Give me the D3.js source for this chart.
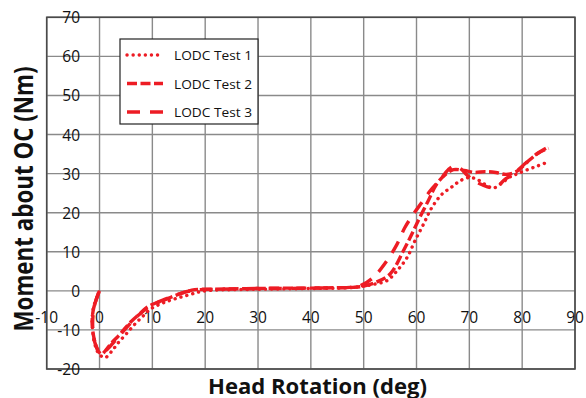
<!DOCTYPE html>
<html>
<head>
<meta charset="utf-8">
<script src="https://cdn.jsdelivr.net/npm/d3@7"></script>
<style>
  html, body { margin: 0; padding: 0; background: #fff; }
  svg { display: block; }
  text { font-family: "Open Sans", "Liberation Sans", sans-serif; fill: #111; }
</style>
</head>
<body>
<svg id="chart" width="586" height="398"></svg>
<script>
// Axis ticks
const xTicks = [-10, 0, 10, 20, 30, 40, 50, 60, 70, 80, 90];
const yTicks = [-20, -10, 0, 10, 20, 30, 40, 50, 60, 70];

// Series names
const seriesNames = ["LODC Test 1", "LODC Test 2", "LODC Test 3"];

// Head rotation (deg) vs moment about OC (Nm), per test
const test1 = [
  [-0.1,-0.3],[-0.6,-2],[-1.1,-4],[-1.4,-7],[-1.3,-10],[-1,-13],[-0.4,-15.5],[0.4,-16.8],[1.2,-17],
  [2.4,-15.3],[3.6,-13.2],[5.2,-10.8],[6.7,-8.5],[8.2,-6.5],[9.6,-4.7],[11.3,-3.5],[13,-2.6],
  [14.6,-1.9],[16.2,-1.3],[18,-0.6],[19.5,-0.1],[22,0.2],[25,0.3],[30,0.4],[35,0.5],[40,0.6],
  [45,0.7],[48,0.9],[50,1.2],[52,1.7],[54.4,2.6],[56.3,5.1],[58.2,8.5],[59.7,12.8],[61.3,17],
  [62.9,21.3],[64.8,24.7],[66.7,26.6],[68.3,28.2],[70,29],[71.5,28.5],[73,27.2],[74.5,26.3],
  [76,27.4],[77.5,29],[79,29.9],[81,31],[83,32],[84.8,32.9]
];
const test2 = [
  [-0.1,-0.3],[-0.7,-2.5],[-1.2,-5],[-1.4,-8],[-1.2,-11],[-0.8,-13.5],[-0.3,-15.3],[0.4,-16.2],
  [1,-15.5],[2.3,-13.3],[3.6,-11.5],[4.8,-9.6],[6.1,-7.7],[7.5,-6],[8.9,-4.3],[10.3,-3.3],
  [11.8,-2.6],[13.4,-1.7],[14.9,-0.9],[16.5,-0.2],[18,0.3],[21,0.4],[25,0.5],[30,0.6],[35,0.7],
  [40,0.7],[45,0.8],[48,0.9],[50,1.2],[52.5,2.3],[55,4.3],[57.5,10.2],[59.1,14.5],[60.3,17.9],
  [62.2,23],[63.8,27.3],[65.5,29.8],[67,31],[69,30.8],[71,30.3],[73,30.5],[75,30.3],[77,29.8],
  [79,30.6],[81,33],[83,35.2],[85,36.5]
];
const test3 = [
  [-0.2,-0.5],[-0.8,-3],[-1.2,-6],[-1.3,-9],[-1.1,-12],[-0.6,-14.3],[0,-15.6],[0.8,-15.8],
  [1.6,-14.8],[3,-12.7],[4.4,-10.5],[5.8,-8.4],[7.4,-6.2],[9,-4.4],[10.6,-3.2],[12.3,-2.2],
  [14,-1.3],[15.7,-0.5],[17.3,0],[19,0.3],[22,0.4],[26,0.5],[30,0.6],[35,0.6],[40,0.7],[45,0.8],
  [47.4,0.9],[49.5,1.4],[51.8,3.4],[54.4,7.7],[56.3,11.9],[57.8,16.2],[59.4,19.6],[61,22.6],
  [62.6,25.6],[64.5,28.5],[66,31],[67.2,32],[68.4,31.2],[69.6,29.6],[70.8,28.3],[72.3,27.2],
  [74,26.4],[75.5,27],[76.8,28.6],[78.5,30],[80.5,32.5],[82.5,34.8],[84.5,36.5]
];

const series = [test1, test2, test3];
const dashes = ["0.1,6", "10,3.5", "13,10"];
const red = "#ED1C24";

const svg = d3.select("#chart");
const plot = { left: 46.7, right: 575, top: 17.3, bottom: 369 };

const x = d3.scaleLinear().domain([-10, 90]).range([plot.left, plot.right]);
const y = d3.scaleLinear().domain([-20, 70]).range([plot.bottom, plot.top]);

// Grid
const grid = svg.append("g");
grid.selectAll("line.vx").data(xTicks).join("line")
  .attr("x1", d => x(d)).attr("x2", d => x(d))
  .attr("y1", plot.top).attr("y2", plot.bottom)
  .attr("stroke", "#8a8a8a").attr("stroke-width", 1.4);
grid.selectAll("line.hy").data(yTicks).join("line")
  .attr("x1", plot.left).attr("x2", plot.right)
  .attr("y1", d => y(d)).attr("y2", d => y(d))
  .attr("stroke", "#8a8a8a").attr("stroke-width", 1.4);

// Frame
svg.append("rect")
  .attr("x", plot.left).attr("y", plot.top)
  .attr("width", plot.right - plot.left).attr("height", plot.bottom - plot.top)
  .attr("fill", "none").attr("stroke", "#4a4a4a").attr("stroke-width", 1.6);

// Tick labels (drawn inside the plot, Excel style)
svg.append("g").selectAll("text").data(yTicks).join("text")
  .attr("x", 80).attr("y", d => y(d))
  .attr("text-anchor", "end").attr("dominant-baseline", "central")
  .attr("font-size", 15.5)
  .text(d => d);
svg.append("g").selectAll("text").data(xTicks).join("text")
  .attr("x", d => x(d)).attr("y", 316.5)
  .attr("text-anchor", "middle").attr("dominant-baseline", "central")
  .attr("font-size", 15.5)
  .text(d => d);

// Curves
const line = d3.line().x(d => x(d[0])).y(d => y(d[1])).curve(d3.curveCatmullRom.alpha(0.5));
svg.append("g").selectAll("path").data(series).join("path")
  .attr("d", line)
  .attr("fill", "none")
  .attr("stroke", red)
  .attr("stroke-width", 3.4)
  .attr("stroke-linecap", (d, i) => i === 0 ? "round" : "butt")
  .attr("stroke-dasharray", (d, i) => dashes[i]);

// Legend
const lg = svg.append("g");
lg.append("rect").attr("x", 120).attr("y", 39).attr("width", 138).attr("height", 85)
  .attr("fill", "#fff").attr("stroke", "#222").attr("stroke-width", 1.2);
const rowY = [55, 83.5, 112];
seriesNames.forEach((name, i) => {
  lg.append("line")
    .attr("x1", 127).attr("x2", 163).attr("y1", rowY[i]).attr("y2", rowY[i])
    .attr("stroke", red).attr("stroke-width", 3.4)
    .attr("stroke-linecap", i === 0 ? "round" : "butt")
    .attr("stroke-dasharray", dashes[i]);
  lg.append("text")
    .attr("x", 174).attr("y", rowY[i])
    .attr("dominant-baseline", "central")
    .attr("font-size", 13)
    .attr("textLength", 78).attr("lengthAdjust", "spacingAndGlyphs")
    .text(name);
});

// Axis titles
svg.append("text")
  .attr("transform", "translate(33,199) rotate(-90)")
  .attr("text-anchor", "middle")
  .attr("font-size", 26).attr("font-weight", "bold")
  .attr("textLength", 265).attr("lengthAdjust", "spacingAndGlyphs")
  .text("Moment about OC (Nm)");
svg.append("text")
  .attr("x", 317.5).attr("y", 393.5)
  .attr("text-anchor", "middle")
  .attr("font-size", 21).attr("font-weight", "bold")
  .attr("textLength", 219).attr("lengthAdjust", "spacingAndGlyphs")
  .text("Head Rotation (deg)");
</script>
</body>
</html>
